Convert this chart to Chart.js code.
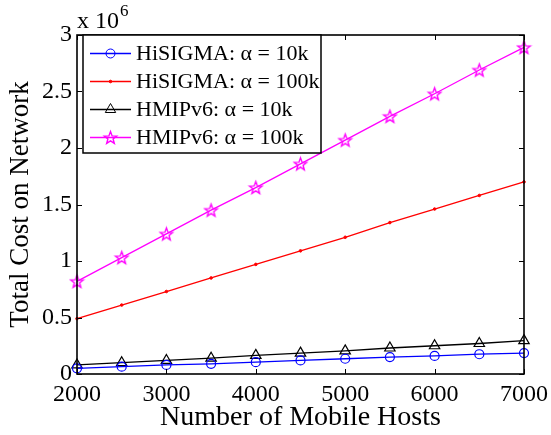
<!DOCTYPE html>
<html>
<head>
<meta charset="utf-8">
<script src="https://cdn.jsdelivr.net/npm/chart.js@4.4.1/dist/chart.umd.min.js"></script>
<style>
  html, body { margin: 0; padding: 0; background: #fff; }
  #wrap { width: 551px; height: 435px; }
</style>
</head>
<body>
<div id="wrap"><canvas id="costChart" width="551" height="435"></canvas></div>
<script>
// values, y in units of 10^6
const hosts = [2000, 2500, 3000, 3500, 4000, 4500, 5000, 5500, 6000, 6500, 7000];
const hisigma10k = [0.05, 0.065, 0.08, 0.09, 0.105, 0.12, 0.135, 0.15, 0.16, 0.175, 0.185];
const hisigma100k = [0.49, 0.61, 0.73, 0.85, 0.97, 1.09, 1.21, 1.34, 1.46, 1.58, 1.70];
const hmip10k = [0.08, 0.10, 0.12, 0.14, 0.165, 0.185, 0.205, 0.23, 0.25, 0.27, 0.295];
const hmip100k = [0.82, 1.03, 1.24, 1.45, 1.65, 1.86, 2.07, 2.28, 2.48, 2.69, 2.89];
const seriesNames = ['HiSIGMA: α = 10k', 'HiSIGMA: α = 100k', 'HMIPv6: α = 10k', 'HMIPv6: α = 100k'];
const xTicks = [2000, 3000, 4000, 5000, 6000, 7000];
const yTicks = [0, 0.5, 1, 1.5, 2, 2.5, 3];

const SERIF = '"Liberation Serif", "Times New Roman", "DejaVu Serif", serif';

function makeStar(color, r) {
    const c = document.createElement('canvas');
    const s = Math.ceil(r * 2 + 4);
    c.width = s; c.height = s;
    const g = c.getContext('2d');
    g.strokeStyle = color;
    g.lineWidth = 1.4;
    g.beginPath();
    for (let k = 0; k < 10; k++) {
        const rad = k % 2 ? r * 0.42 : r;
        const a = -Math.PI / 2 + k * Math.PI / 5;
        const px = s / 2 + rad * Math.cos(a), py = s / 2 + 0.6 + rad * Math.sin(a);
        if (k === 0) g.moveTo(px, py); else g.lineTo(px, py);
    }
    g.closePath();
    g.stroke();
    return c;
}
const starMarker = makeStar('#ff00ff', 6.5);

const toPoints = arr => arr.map((v, i) => ({ x: hosts[i], y: v }));

// MATLAB style box with inward ticks and the exponent label
const axesBox = {
    id: 'axesBox',
    afterDatasetsDraw(chart) {
        const { ctx, chartArea: a, scales } = chart;
        ctx.save();
        ctx.strokeStyle = '#000';
        ctx.lineWidth = 1;
        ctx.beginPath();
        xTicks.forEach(v => {
            const px = Math.round(scales.x.getPixelForValue(v)) + 0.5;
            ctx.moveTo(px, a.bottom); ctx.lineTo(px, a.bottom - 5);
            ctx.moveTo(px, a.top); ctx.lineTo(px, a.top + 5);
        });
        yTicks.forEach(v => {
            const py = Math.round(scales.y.getPixelForValue(v)) + 0.5;
            ctx.moveTo(a.left, py); ctx.lineTo(a.left + 5, py);
            ctx.moveTo(a.right, py); ctx.lineTo(a.right - 5, py);
        });
        ctx.stroke();
        ctx.lineWidth = 1.6;
        ctx.strokeRect(a.left, a.top, a.right - a.left, a.bottom - a.top);

        ctx.fillStyle = '#000';
        ctx.textBaseline = 'alphabetic';
        ctx.font = '24px ' + SERIF;
        ctx.fillText('x 10', a.left, 28);
        const w = ctx.measureText('x 10').width;
        ctx.font = '17px ' + SERIF;
        ctx.fillText('6', a.left + w + 1, 16);
        ctx.restore();
    }
};

function drawMarker(ctx, ds, x, y) {
    const st = ds.pointStyle, r = ds.pointRadius;
    ctx.strokeStyle = ds.pointBorderColor;
    ctx.fillStyle = ds.pointBackgroundColor;
    ctx.lineWidth = 1;
    if (st instanceof HTMLCanvasElement) {
        ctx.drawImage(st, x - st.width / 2, y - st.height / 2);
    } else if (st === 'triangle') {
        ctx.beginPath();
        ctx.moveTo(x, y - r);
        ctx.lineTo(x + r * Math.sin(Math.PI / 3), y + r / 2);
        ctx.lineTo(x - r * Math.sin(Math.PI / 3), y + r / 2);
        ctx.closePath();
        ctx.fill(); ctx.stroke();
    } else {
        ctx.beginPath();
        ctx.arc(x, y, r, 0, Math.PI * 2);
        ctx.fill(); ctx.stroke();
    }
}

const legendBox = {
    id: 'legendBox',
    afterDatasetsDraw(chart) {
        const { ctx, chartArea: a } = chart;
        const x0 = a.left + 6, y0 = a.top, w = 238, h = 118;
        ctx.save();
        ctx.fillStyle = '#fff';
        ctx.fillRect(x0, y0, w, h);
        ctx.strokeStyle = '#000';
        ctx.lineWidth = 1.5;
        ctx.strokeRect(x0, y0, w, h);
        ctx.font = '22px ' + SERIF;
        ctx.textBaseline = 'middle';
        chart.data.datasets.forEach((ds, i) => {
            const y = y0 + 18.5 + i * 28;
            ctx.strokeStyle = ds.borderColor;
            ctx.lineWidth = ds.borderWidth;
            ctx.beginPath();
            ctx.moveTo(x0 + 7, y); ctx.lineTo(x0 + 48, y);
            ctx.stroke();
            drawMarker(ctx, ds, x0 + 27.5, y);
            ctx.fillStyle = '#000';
            ctx.fillText(ds.label, x0 + 53, y + 1);
        });
        ctx.restore();
    }
};

new Chart(document.getElementById('costChart'), {
    type: 'line',
    data: {
        datasets: [
            {
                label: seriesNames[0], data: toPoints(hisigma10k),
                borderColor: '#0000ff', borderWidth: 1.3,
                pointStyle: 'circle', pointRadius: 4.5,
                pointBorderColor: '#0000ff', pointBackgroundColor: 'rgba(0,0,0,0)', pointBorderWidth: 1.2
            },
            {
                label: seriesNames[1], data: toPoints(hisigma100k),
                borderColor: '#ff0000', borderWidth: 1.3,
                pointStyle: 'circle', pointRadius: 1.3,
                pointBorderColor: '#ff0000', pointBackgroundColor: '#ff0000', pointBorderWidth: 1
            },
            {
                label: seriesNames[2], data: toPoints(hmip10k),
                borderColor: '#000000', borderWidth: 1.3,
                pointStyle: 'triangle', pointRadius: 6,
                pointBorderColor: '#000000', pointBackgroundColor: 'rgba(0,0,0,0)', pointBorderWidth: 1.2
            },
            {
                label: seriesNames[3], data: toPoints(hmip100k),
                borderColor: '#ff00ff', borderWidth: 1.3,
                pointStyle: starMarker, pointRadius: 6,
                pointBorderColor: '#ff00ff', pointBackgroundColor: 'rgba(0,0,0,0)', pointBorderWidth: 1
            }
        ]
    },
    options: {
        responsive: false,
        animation: false,
        devicePixelRatio: 1,
        layout: { padding: { top: 35, right: 27, left: 0, bottom: 0 } },
        elements: { line: { tension: 0 } },
        datasets: { line: { clip: false } },
        plugins: { legend: { display: false }, tooltip: { enabled: false } },
        scales: {
            x: {
                type: 'linear', min: 2000, max: 7000,
                afterBuildTicks: s => { s.ticks = xTicks.map(v => ({ value: v })); },
                // fixed plot box: no extra label overflow padding
                afterFit: s => { s.height = 61; s.paddingLeft = 0; s.paddingRight = 0; },
                grid: { display: false, drawTicks: false },
                border: { display: false },
                ticks: { color: '#000', font: { family: SERIF, size: 24 }, padding: 6, maxRotation: 0, autoSkip: false, callback: v => String(v) },
                title: { display: true, text: 'Number of Mobile Hosts', color: '#000', font: { family: SERIF, size: 28 }, padding: { top: 0, bottom: 1 } }
            },
            y: {
                type: 'linear', min: 0, max: 3,
                afterBuildTicks: s => { s.ticks = yTicks.map(v => ({ value: v })); },
                afterFit: s => { s.width = 77; s.paddingTop = 0; s.paddingBottom = 0; },
                grid: { display: false, drawTicks: false },
                border: { display: false },
                ticks: { color: '#000', font: { family: SERIF, size: 24 }, padding: 5, callback: v => String(v) },
                title: { display: true, text: 'Total Cost on Network', color: '#000', font: { family: SERIF, size: 27 }, padding: { top: 5, bottom: 0 } }
            }
        }
    },
    plugins: [axesBox, legendBox]
});
</script>
</body>
</html>
